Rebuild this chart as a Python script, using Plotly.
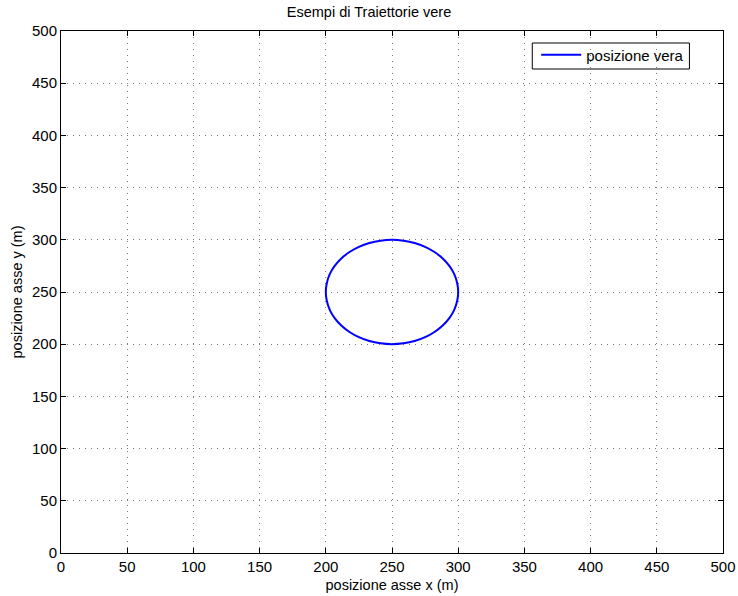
import plotly.graph_objects as go

# Trajectory sampled every 10 degrees (metres)
pos_x = [300.0, 299.2, 297.0, 293.3, 288.3, 282.1, 275.0, 267.1, 258.7, 250.0,
         241.3, 232.9, 225.0, 217.9, 211.7, 206.7, 203.0, 200.8, 200.0, 200.8,
         203.0, 206.7, 211.7, 217.9, 225.0, 232.9, 241.3, 250.0, 258.7, 267.1,
         275.0, 282.1, 288.3, 293.3, 297.0, 299.2, 300.0]
pos_y = [250.0, 258.7, 267.1, 275.0, 282.1, 288.3, 293.3, 297.0, 299.2, 300.0,
         299.2, 297.0, 293.3, 288.3, 282.1, 275.0, 267.1, 258.7, 250.0, 241.3,
         232.9, 225.0, 217.9, 211.7, 206.7, 203.0, 200.8, 200.0, 200.8, 203.0,
         206.7, 211.7, 217.9, 225.0, 232.9, 241.3, 250.0]

tick_vals = [0, 50, 100, 150, 200, 250, 300, 350, 400, 450, 500]

fig = go.Figure()
fig.add_trace(go.Scatter(
    x=pos_x, y=pos_y, mode="lines", name="posizione vera",
    line=dict(color="#0000ff", width=2, shape="spline"),
))

axis_common = dict(
    range=[0, 500], tickvals=tick_vals, ticks="inside", ticklen=5,
    tickcolor="black", showline=True, linecolor="black", linewidth=1,
    mirror="ticks", showgrid=True, gridcolor="#7a7a7a", griddash="1px,5px",
    gridwidth=1, zeroline=False, tickfont=dict(size=15, color="black"),
    automargin=False,
)

fig.update_layout(
    width=738, height=596,
    margin=dict(l=61, r=15, t=31, b=43),
    paper_bgcolor="white", plot_bgcolor="white",
    font=dict(family="Liberation Sans, Arial, sans-serif", color="black"),
    title=dict(text="Esempi di Traiettorie vere", x=0.5, xanchor="center",
               y=0.98, yanchor="middle", font=dict(size=14.5)),
    xaxis=dict(**axis_common,
               title=dict(text="posizione asse x (m)", font=dict(size=14.5), standoff=5)),
    yaxis=dict(**axis_common,
               title=dict(text="posizione asse y (m)", font=dict(size=14.5), standoff=5)),
    legend=dict(x=0.949, y=0.9856, xanchor="right", yanchor="top",
                borderwidth=0, bgcolor="rgba(0,0,0,0)",
                font=dict(size=15), itemwidth=40),
    showlegend=True,
    shapes=[dict(type="rect", xref="paper", yref="paper",
                 x0=0.7119, x1=0.9493, y0=0.9770, y1=0.9272,
                 line=dict(color="black", width=1), fillcolor="white",
                 layer="below")],
)

fig.write_html("out.html")
